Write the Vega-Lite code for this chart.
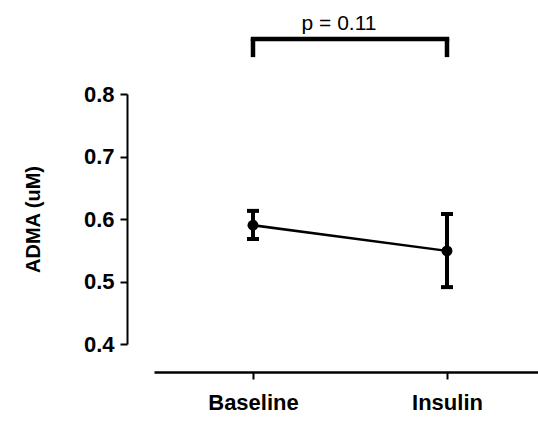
{
  "$schema": "https://vega.github.io/schema/vega-lite/v6.json",
  "autosize": "none",
  "width": 384,
  "height": 250,
  "padding": {"left": 154, "top": 94, "right": 0, "bottom": 77},
  "background": "white",
  "config": {"view": {"stroke": null}, "font": "Liberation Sans"},
  "layer": [
    {
      "data": {"values": [
        {"group": "Baseline", "mean": 0.590, "lo": 0.568, "hi": 0.613},
        {"group": "Insulin", "mean": 0.549, "lo": 0.491, "hi": 0.608}
      ]},
      "encoding": {
        "x": {
          "field": "group", "type": "nominal",
          "scale": {"type": "point", "padding": 0.4897, "align": 0.521},
          "axis": {
            "title": null, "labelAngle": 0, "offset": 28,
            "domainColor": "black", "domainWidth": 2.5,
            "tickColor": "black", "tickWidth": 2, "tickSize": 7,
            "labelFont": "Liberation Sans", "labelFontSize": 22, "labelFontWeight": "bold",
            "labelColor": "black", "labelPadding": 13, "labelBaseline": "top"
          }
        }
      },
      "layer": [
        {
          "mark": {"type": "rule", "color": "black", "strokeWidth": 4},
          "encoding": {
            "y": {
              "field": "lo", "type": "quantitative",
              "scale": {"domain": [0.4, 0.8], "nice": false, "zero": false},
              "axis": {
                "title": "ADMA (uM)", "values": [0.4, 0.5, 0.6, 0.7, 0.8], "format": ".1f",
                "offset": 27, "grid": false,
                "domainColor": "black", "domainWidth": 2,
                "tickColor": "black", "tickWidth": 2, "tickSize": 7,
                "labelFont": "Liberation Sans", "labelFontSize": 22, "labelFontWeight": "bold",
                "labelColor": "black", "labelPadding": 6,
                "titleFont": "Liberation Sans", "titleFontSize": 20, "titleFontWeight": "bold",
                "titleColor": "black", "titlePadding": 40
              }
            },
            "y2": {"field": "hi"}
          }
        },
        {
          "mark": {"type": "tick", "color": "black", "thickness": 4, "size": 12, "opacity": 1},
          "encoding": {"y": {"field": "lo", "type": "quantitative"}}
        },
        {
          "mark": {"type": "tick", "color": "black", "thickness": 4, "size": 12, "opacity": 1},
          "encoding": {"y": {"field": "hi", "type": "quantitative"}}
        },
        {
          "mark": {"type": "line", "color": "black", "strokeWidth": 2.5},
          "encoding": {"y": {"field": "mean", "type": "quantitative"}}
        },
        {
          "mark": {"type": "point", "shape": "circle", "filled": true, "color": "black", "size": 120, "opacity": 1},
          "encoding": {"y": {"field": "mean", "type": "quantitative"}}
        }
      ]
    },
    {
      "data": {"values": [{"from": "Baseline", "to": "Insulin", "level": 0.888}]},
      "mark": {"type": "rule", "color": "black", "strokeWidth": 4.5, "strokeCap": "square"},
      "encoding": {
        "x": {"field": "from", "type": "nominal"},
        "x2": {"field": "to"},
        "y": {"field": "level", "type": "quantitative"}
      }
    },
    {
      "data": {"values": [
        {"group": "Baseline", "bottom": 0.859, "top": 0.888},
        {"group": "Insulin", "bottom": 0.859, "top": 0.888}
      ]},
      "mark": {"type": "rule", "color": "black", "strokeWidth": 4.5},
      "encoding": {
        "x": {"field": "group", "type": "nominal"},
        "y": {"field": "bottom", "type": "quantitative"},
        "y2": {"field": "top"}
      }
    },
    {
      "data": {"values": [{"group": "Baseline", "level": 0.902, "label": "p = 0.11"}]},
      "mark": {"type": "text", "dx": 86, "align": "center", "baseline": "alphabetic", "fontSize": 21, "font": "Liberation Sans", "color": "black"},
      "encoding": {
        "x": {"field": "group", "type": "nominal"},
        "y": {"field": "level", "type": "quantitative"},
        "text": {"field": "label"}
      }
    }
  ]
}
